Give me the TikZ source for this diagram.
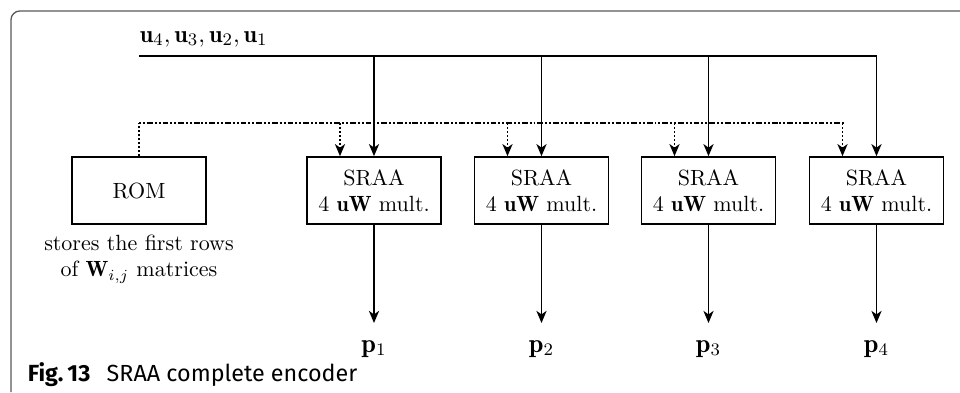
\documentclass[tikz,border=0pt]{standalone}
\usepackage{fontspec}
\newfontfamily\capfont{Fira Sans}
\usetikzlibrary{arrows.meta}
\begin{document}
\begin{tikzpicture}[x=0.4545pt,y=-0.4545pt,
  line width=0.8pt,
  arr/.style={-{Stealth[length=5.5pt,width=4.6pt,inset=1.6pt]}},
  blk/.style={draw,minimum width=60.9pt,minimum height=30.4pt,inner sep=0pt,align=center},
  dotv/.style={dash pattern=on 0.9pt off 0.9pt},
  doth/.style={dash pattern=on 0.9pt off 0.9pt on 0.9pt off 0.9pt on 2.6pt off 0.9pt},
  plab/.style={inner sep=0pt,font=\fontsize{12pt}{14pt}\selectfont},
  lbl/.style={inner sep=0pt}]
\useasboundingbox (0,0) rectangle (960,392);
% frame
\draw[line width=0.6pt,black!65,rounded corners=4pt] (960,11) -- (11,11) -- (11,392);
% nodes
\node[blk] (rom) at (139,190.5) {ROM};
\node[blk] (s1) at (374,190.5) {SRAA\\4 $\mathbf{uW}$ mult.};
\node[blk] (s2) at (541.5,190.5) {SRAA\\4 $\mathbf{uW}$ mult.};
\node[blk] (s3) at (708.5,190.5) {SRAA\\4 $\mathbf{uW}$ mult.};
\node[blk] (s4) at (876.5,190.5) {SRAA\\4 $\mathbf{uW}$ mult.};
\node[lbl,anchor=base west,font=\fontsize{11pt}{13pt}\selectfont] (ulab) at (139,42) {$\mathbf{u}_4,\mathbf{u}_3,\mathbf{u}_2,\mathbf{u}_1$};
\node[align=center,anchor=north,inner sep=0pt] (romcap) at (139,234) {stores the first rows\\of $\mathbf{W}_{i,j}$ matrices};
\node[plab,anchor=base] (p1) at (374,352) {$\mathbf{p}_1$};
\node[plab,anchor=base] (p2) at (541.5,352) {$\mathbf{p}_2$};
\node[plab,anchor=base] (p3) at (708.5,352) {$\mathbf{p}_3$};
\node[plab,anchor=base] (p4) at (876.5,352) {$\mathbf{p}_4$};
\node[anchor=base west,inner sep=0pt] (cap) at (27,381.5) {\capfont\fontsize{10.6pt}{12pt}\selectfont\textbf{Fig.\,13}\hspace{0.7em}SRAA complete encoder};
% bus
\coordinate (busL) at (139,56);
\coordinate (busR) at (876.5,56);
\coordinate (pend) at (0,323);
\draw (busL) -- (busR);
\foreach \s in {s1,s2,s3,s4}{
  \draw[arr] (\s.north |- busL) -- (\s.north);
  \draw[arr] (\s.south) -- (\s.south |- pend);
}
% ROM distribution
\coordinate (romT) at (139,123);
\coordinate (romR) at (844,123);
\draw[dotv] (rom.north) -- (romT);
\draw[doth] (romT) -- (romR);
\foreach \s in {s1,s2,s3,s4}{
  \draw[dotv,arr] ([xshift=-15.45pt]\s.north |- romT) -- ([xshift=-15.45pt]\s.north);
}
\end{tikzpicture}
\end{document}
